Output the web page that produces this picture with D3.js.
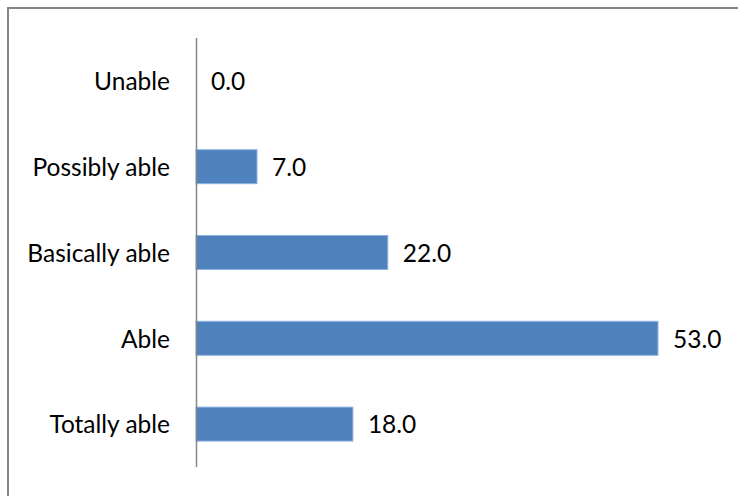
<!DOCTYPE html>
<html>
<head>
<meta charset="utf-8">
<script src="https://cdn.jsdelivr.net/npm/d3@7"></script>
<style>
  html, body { margin: 0; padding: 0; background: #fff; }
  svg { display: block; }
  text { font-family: Lato, "Open Sans", sans-serif; fill: #000; }
</style>
</head>
<body>
<svg id="chart" width="738" height="496"></svg>
<script>
// Survey responses (percent)
const categories = ["Unable", "Possibly able", "Basically able", "Able", "Totally able"];
const values = [0.0, 7.0, 22.0, 53.0, 18.0];
const axisMax = 60;

const svg = d3.select("#chart");
const W = 738, H = 496;
const plot = { left: 196, top: 38, right: 719, bottom: 467 };
const fontSize = "24.5px";

// chart frame
svg.append("rect")
  .attr("x", 8).attr("y", 8)
  .attr("width", W).attr("height", H)
  .attr("fill", "#fff")
  .attr("stroke", "#868686")
  .attr("stroke-width", 2);

const y = d3.scaleBand()
  .domain(categories)
  .range([plot.top, plot.bottom])
  .paddingInner(0.604)
  .paddingOuter(0.302);

const x = d3.scaleLinear()
  .domain([0, axisMax])
  .range([plot.left, plot.right]);

const data = categories.map((c, i) => ({ c, v: values[i] }));

// bars
svg.append("g").selectAll("rect")
  .data(data)
  .join("rect")
  .attr("x", x(0))
  .attr("y", d => y(d.c))
  .attr("width", d => x(d.v) - x(0))
  .attr("height", y.bandwidth())
  .attr("fill", "#4f81bd")
  .attr("stroke", d => d.v > 0 ? "#8db3e2" : "none")
  .attr("stroke-width", 1);

// value labels
svg.append("g").selectAll("text")
  .data(data)
  .join("text")
  .attr("x", d => x(d.v) + 15)
  .attr("y", d => y(d.c) + y.bandwidth() / 2)
  .attr("dy", "0.38em")
  .style("font-size", fontSize)
  .text(d => d3.format(".1f")(d.v));

// category axis
const yAxis = d3.axisLeft(y).tickSize(0).tickPadding(26);
const gy = svg.append("g")
  .attr("transform", `translate(${plot.left},0)`)
  .call(yAxis);
gy.select(".domain").remove();
gy.selectAll("text")
  .attr("dy", "0.38em")
  .style("font-size", fontSize)
  .style("font-family", "Lato, 'Open Sans', sans-serif")
  .attr("fill", "#000");

svg.append("line")
  .attr("x1", plot.left + 0.5).attr("x2", plot.left + 0.5)
  .attr("y1", plot.top).attr("y2", plot.bottom)
  .attr("stroke", "#868686")
  .attr("stroke-width", 1.5);
</script>
</body>
</html>
